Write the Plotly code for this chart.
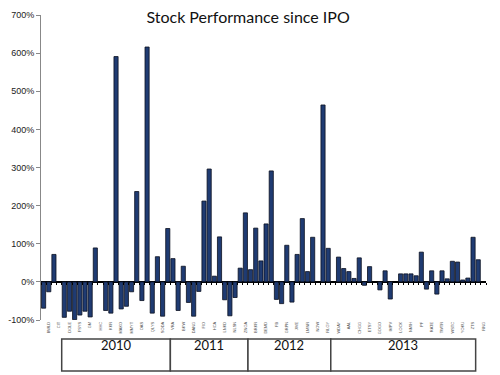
import plotly.graph_objects as go

tickers = ["AMRS","BWLD","CBOE","CIT","CODE","DOLE","ENV","FSYS","GEVO","GM",
           "GNC","HHC","IPI","KKR","LPLA","MAKO","MELI","MMYT","NXPI","OAS",
           "PACB","QLYS","RLD","SODA","TSLA","VRA","ZIP","BKW","BAH","DANG",
           "EPAM","FIO","FRAN","HCA","KMI","LNKD","MPC","NLSN","P","ZNGA",
           "ANGI","BRKR","CSOD","DEMD","ENPH","FB","FLT","GRPN","INVN","JIVE",
           "KYTH","LMNR","MRKT","NOW","PANW","RLGY","SPLK","WDAY","YELP","AAL",
           "BLMN","CHGG","CUDA","ETSY","FEYE","GOGO","HLT","IMPV","KING","LOCK",
           "MKTO","NMIH","OWW","PF","QIWI","RATE","SFM","TWTR","VEEV","WSTC",
           "XONE","YOKU","ZAYO","ZTS","TUBE","RNG"]

performance = [-69, -26, 72, None, -93, -77, -99, -87, -77, -92,
               89, None, -75, -82, 591, -71, -64, -26, 237, -49,
               616, -82, 66, -90, 140, 61, -75, 41, -54, -90,
               -25, 212, 296, 15, 118, -47, -89, -41, 36, 181,
               32, 141, 55, 152, 291, -46, -57, 96, -53, 72,
               166, 27, 117, None, 464, 88, None, 65, 35, 27,
               9, 63, -9, 40, None, -21, 29, -45, None, 21,
               21, 21, 16, 78, -19, 29, -32, 29, 8, 54,
               52, 5, 10, 117, 58, None]

years = ["2010", "2011", "2012", "2013"]
year_first = [4, 25, 40, 56]   # first category index in each year group
year_last = [24, 39, 55, 83]   # last category index in each year group

y_min, y_max = -100, 700
y_ticks = [-100, 0, 100, 200, 300, 400, 500, 600, 700]
y_tick_labels = [f"{v}%" for v in y_ticks]

FONT = "Lato, 'Open Sans', Arial, sans-serif"

fig = go.Figure()
fig.add_trace(go.Bar(
    x=tickers, y=performance,
    marker=dict(color="#1F3B72", line=dict(color="#0B1020", width=0.8)),
    width=0.8,
    hoverinfo="x+y",
))
# empty helper trace so the zero-line tick axis gets drawn
fig.add_trace(go.Scatter(x=tickers, y=[None] * len(tickers), xaxis="x2",
                         mode="markers", hoverinfo="skip", showlegend=False))

for yr, a, b in zip(years, year_first, year_last):
    fig.add_shape(type="rect", xref="x", yref="paper",
                  x0=a - 0.5, x1=b + 0.5, y0=-0.167, y1=-0.062,
                  line=dict(color="#444444", width=1.5), fillcolor="white")
    fig.add_annotation(x=(a + b) / 2, y=-0.1145, xref="x", yref="paper",
                       text=yr, showarrow=False,
                       font=dict(family=FONT, size=13, color="#111111"))

# page body adds an 8px offset, so the figure is sized to fit the 500x375 window
fig.update_layout(
    width=492, height=367,
    font=dict(family=FONT),
    margin=dict(l=33, r=14, t=7, b=55, autoexpand=False),
    paper_bgcolor="white", plot_bgcolor="white",
    showlegend=False,
    title=dict(text="Stock Performance since IPO", x=0.488, xanchor="center",
               xref="container", y=0.975, yanchor="middle",
               font=dict(family=FONT, size=16, color="#111111")),
    xaxis=dict(
        type="category", range=[-0.5, len(tickers) - 0.5], automargin=False,
        tickmode="array", tickvals=tickers[1::2], ticktext=tickers[1::2],
        tickangle=-90, tickfont=dict(family="Liberation Sans, Arial, sans-serif", size=4, color="#555555"),
        showgrid=False, showline=False, ticks="",
    ),
    # category tick stubs along the zero line
    xaxis2=dict(
        type="category", overlaying="x", anchor="free",
        position=(0 - y_min) / (y_max - y_min),
        categoryarray=tickers, categoryorder="array",
        range=[-0.5, len(tickers) - 0.5], automargin=False,
        tickmode="array", tickvals=tickers, tickson="boundaries",
        ticks="outside", ticklen=2, tickcolor="#000000", tickwidth=1,
        showticklabels=False, showgrid=False, showline=False, zeroline=False,
    ),
    yaxis=dict(
        range=[y_min, y_max], tickvals=y_ticks, ticktext=y_tick_labels, automargin=False,
        tickfont=dict(family="Liberation Sans, Arial, sans-serif", size=9, color="#222222"),
        showgrid=False, showline=True, linecolor="#888888", linewidth=1,
        ticks="outside", ticklen=4, tickcolor="#888888",
        zeroline=True, zerolinecolor="#000000", zerolinewidth=2,
        layer="above traces",
    ),
    bargap=0.2,
)

fig.write_html("out.html")
